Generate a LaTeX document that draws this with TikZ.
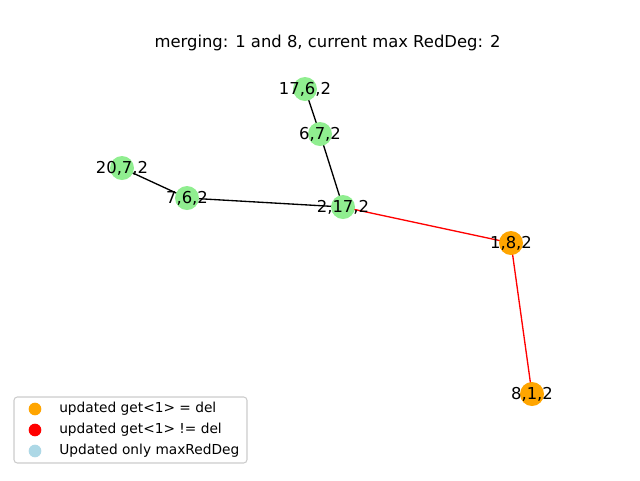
\documentclass[tikz,border=0pt]{standalone}
\usepackage{fontspec}
\setmainfont{DejaVu Sans}
\definecolor{lgreen}{HTML}{90EE90}
\definecolor{orng}{HTML}{FFA500}
\definecolor{lblue}{HTML}{ADD8E6}
\definecolor{lgframe}{HTML}{CCCCCC}
\begin{document}
\begin{tikzpicture}[x=0.75pt,y=-0.75pt,
  vert/.style={circle,inner sep=0pt,minimum size=18pt},
  lbl/.style={font=\fontsize{12.3pt}{14pt}\selectfont,inner sep=0pt},
  edgeb/.style={black,line width=1pt},
  edger/.style={red,line width=1pt},
  legdot/.style={circle,inner sep=0pt,minimum size=9.5pt},
  legtxt/.style={font=\fontsize{10.3pt}{12pt}\selectfont,anchor=west,inner sep=0pt}]
\useasboundingbox (0,0) rectangle (640,480);
% nodes
\node[vert] (a) at (305,89) {};
\node[vert] (b) at (320,134) {};
\node[vert] (c) at (122,168) {};
\node[vert] (d) at (187,198) {};
\node[vert] (e) at (343,207) {};
\node[vert] (f) at (511,243) {};
\node[vert] (g) at (532,394) {};
% edges
\draw[edgeb] (a.center) -- (b.center);
\draw[edgeb] (b.center) -- (e.center);
\draw[edgeb] (c.center) -- (d.center);
\draw[edgeb] (d.center) -- (e.center);
\draw[edger] (e.center) -- (f.center);
\draw[edger] (f.center) -- (g.center);
% node discs on top of edges
\fill[lgreen] (a) circle (9pt);
\fill[lgreen] (b) circle (9pt);
\fill[lgreen] (c) circle (9pt);
\fill[lgreen] (d) circle (9pt);
\fill[lgreen] (e) circle (9pt);
\fill[orng] (f) circle (9pt);
\fill[orng] (g) circle (9pt);
% labels
\node[lbl] (la) at (a) {17,6,2};
\node[lbl] (lb) at (b) {6,7,2};
\node[lbl] (lc) at (c) {20,7,2};
\node[lbl] (ld) at (d) {7,6,2};
\node[lbl] (le) at (e) {2,17,2};
\node[lbl] (lf) at (f) {1,8,2};
\node[lbl] (lg) at (g) {8,1,2};
% title
\node[lbl] (title) at (327.5,43) {merging: 1 and 8, current max RedDeg: 2};
% legend
\draw[lgframe,fill=white,rounded corners=2.5pt,line width=0.8pt] (14,397) rectangle (247,463);
\node[legdot,fill=orng] (m1) at (35,409) {};
\node[legdot,fill=red] (m2) at (35,430) {};
\node[legdot,fill=lblue] (m3) at (35,451) {};
\node[legtxt] (t1) at (59,409) {updated get<1> = del};
\node[legtxt] (t2) at (59,430) {updated get<1> != del};
\node[legtxt] (t3) at (59,451) {Updated only maxRedDeg};
\end{tikzpicture}
\end{document}
